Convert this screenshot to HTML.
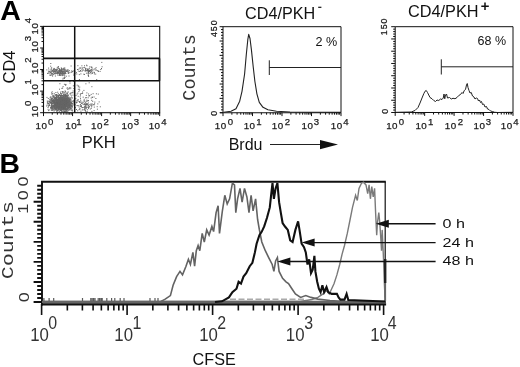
<!DOCTYPE html><html><head><meta charset="utf-8"><title>Figure</title><style>html,body{margin:0;padding:0;background:#fff}svg{display:block}</style></head><body>
<svg width="520" height="367" viewBox="0 0 520 367">
<rect width="520" height="367" fill="#fff"/>
<text transform="translate(0.20,19.90)" font-family="Liberation Sans, Arial, sans-serif" font-size="28.5" fill="#000" text-anchor="start" font-weight="bold">A</text>
<text transform="translate(-0.50,173.40)" font-family="Liberation Sans, Arial, sans-serif" font-size="28.3" fill="#000" text-anchor="start" font-weight="bold">B</text>
<path d="M59.7 105.0h1M59.8 101.7h1M56.2 102.1h1M66.8 104.7h1M66.4 104.0h1M63.1 103.7h1M52.3 106.4h1M63.6 105.0h1M52.2 96.0h1M56.4 101.1h1M62.6 102.8h1M63.7 100.4h1M62.6 104.6h1M57.6 109.9h1M63.9 107.8h1M57.8 100.0h1M59.2 102.6h1M64.3 104.0h1M58.7 99.2h1M58.3 107.9h1M56.8 104.0h1M63.2 97.0h1M61.3 108.2h1M50.5 101.7h1M60.4 99.7h1M63.6 102.8h1M53.4 106.3h1M64.5 106.8h1M68.5 104.4h1M61.6 97.8h1M64.2 100.6h1M58.6 97.9h1M56.0 100.9h1M67.7 94.9h1M53.4 104.0h1M68.5 105.3h1M51.1 92.9h1M62.9 100.1h1M55.2 106.9h1M66.7 103.6h1M62.3 104.7h1M69.3 105.5h1M63.7 105.2h1M52.8 108.1h1M66.0 105.1h1M50.7 100.5h1M65.4 95.8h1M60.0 107.1h1M54.2 109.4h1M63.9 102.4h1M62.7 105.6h1M61.6 107.6h1M57.6 101.3h1M66.4 103.1h1M56.4 106.8h1M68.6 101.2h1M53.8 102.5h1M60.2 101.8h1M68.3 98.9h1M67.6 97.9h1M56.9 105.5h1M66.9 106.4h1M62.8 103.6h1M61.8 105.3h1M60.1 104.1h1M64.0 103.0h1M65.0 105.3h1M71.5 104.3h1M58.8 101.5h1M60.9 106.7h1M59.2 104.5h1M70.6 92.7h1M55.2 104.0h1M63.1 104.0h1M58.8 105.6h1M62.5 100.9h1M73.6 104.4h1M58.1 102.6h1M59.8 102.7h1M46.8 101.1h1M66.2 98.3h1M60.7 106.8h1M65.5 109.0h1M52.2 101.6h1M59.2 105.5h1M66.7 92.3h1M66.7 97.2h1M64.6 97.0h1M61.9 107.8h1M60.2 103.8h1M65.1 103.6h1M60.5 109.1h1M66.5 101.8h1M75.3 98.4h1M65.8 101.9h1M61.7 105.8h1M62.2 105.6h1M53.1 97.0h1M64.2 99.1h1M55.7 97.1h1M67.6 106.0h1M68.7 99.2h1M61.0 98.4h1M65.0 109.4h1M56.4 109.2h1M66.1 102.3h1M50.7 108.6h1M60.5 100.6h1M63.1 104.6h1M68.8 98.9h1M66.9 108.9h1M68.6 102.3h1M57.1 107.1h1M61.6 103.5h1M68.4 101.9h1M49.1 101.5h1M51.4 106.3h1M62.6 100.6h1M61.0 106.3h1M61.4 108.3h1M60.7 107.2h1M68.8 109.4h1M57.5 106.5h1M51.2 98.7h1M50.8 107.3h1M54.6 102.9h1M60.0 102.9h1M57.9 103.9h1M70.3 103.2h1M63.8 107.0h1M60.0 98.0h1M58.1 107.3h1M52.4 100.6h1M66.2 106.2h1M61.0 106.2h1M61.9 98.3h1M52.9 100.4h1M65.8 100.7h1M56.3 99.9h1M53.0 102.5h1M54.9 104.5h1M48.7 104.3h1M57.7 95.2h1M64.8 101.9h1M49.4 99.5h1M62.5 101.2h1M65.1 106.0h1M64.5 104.3h1M67.9 105.6h1M63.3 94.7h1M65.7 108.2h1M59.5 101.1h1M71.1 96.0h1M56.2 105.8h1M70.8 102.5h1M63.9 106.6h1M56.3 102.6h1M62.5 106.3h1M60.8 102.2h1M55.7 101.6h1M65.6 103.4h1M56.6 99.6h1M74.9 107.6h1M64.3 92.6h1M64.2 104.9h1M69.8 104.7h1M60.6 105.1h1M50.9 107.1h1M62.7 100.2h1M67.9 110.2h1M53.7 100.3h1M62.5 103.7h1M58.9 99.1h1M72.0 107.1h1M54.8 97.6h1M69.9 107.0h1M70.5 106.2h1M56.5 104.0h1M49.8 100.0h1M60.7 105.1h1M57.2 102.5h1M63.4 104.5h1M64.3 103.8h1M59.3 106.2h1M61.3 99.7h1M57.7 103.0h1M60.4 103.6h1M61.0 103.7h1M60.3 98.0h1M63.2 107.2h1M63.3 102.2h1M63.3 99.1h1M51.1 103.2h1M56.2 106.0h1M55.4 92.5h1M55.6 109.3h1M59.0 97.5h1M57.0 105.1h1M63.6 103.7h1M68.7 105.8h1M60.9 105.4h1M69.6 106.9h1M66.3 98.7h1M60.2 105.9h1M59.5 107.3h1M64.1 106.6h1M67.4 102.1h1M59.2 106.5h1M66.1 103.0h1M54.9 103.8h1M62.9 107.5h1M65.1 103.1h1M65.4 105.2h1M62.1 103.2h1M59.7 105.7h1M55.5 100.5h1M61.0 97.1h1M58.7 95.0h1M57.4 105.3h1M63.9 102.8h1M59.8 97.3h1M70.5 105.1h1M66.7 99.5h1M60.0 95.7h1M65.1 106.7h1M51.1 102.8h1M64.3 96.0h1M51.5 98.7h1M57.7 97.4h1M61.2 104.0h1M64.3 105.8h1M68.8 107.7h1M54.2 101.0h1M55.5 98.7h1M60.6 103.0h1M63.5 96.7h1M54.6 102.9h1M60.0 101.8h1M60.7 100.0h1M64.6 104.4h1M60.5 100.3h1M60.1 92.1h1M55.9 103.1h1M53.2 103.8h1M61.8 97.5h1M59.7 101.7h1M63.4 105.4h1M60.8 99.6h1M60.2 102.7h1M64.8 104.2h1M57.2 97.6h1M59.1 100.0h1M55.2 102.5h1M58.4 103.4h1M63.7 101.3h1M73.1 101.7h1M66.7 103.5h1M66.8 93.5h1M57.1 104.0h1M62.7 108.1h1M65.0 106.8h1M63.7 102.4h1M63.6 98.7h1M67.1 98.9h1M62.3 111.5h1M59.8 103.1h1M67.0 103.1h1M56.8 104.0h1M64.0 105.8h1M57.0 110.0h1M69.7 103.1h1M62.4 101.3h1M68.4 100.2h1M64.5 101.1h1M57.4 105.9h1M67.9 103.0h1M57.5 106.2h1M60.7 104.2h1M68.9 107.5h1M61.0 106.1h1M57.6 102.8h1M51.9 110.1h1M68.1 98.1h1M53.2 96.5h1M67.1 101.2h1M60.7 101.7h1M60.4 98.6h1M61.1 97.2h1M60.6 104.2h1M63.4 102.1h1M56.3 103.6h1M58.5 109.3h1M65.0 102.5h1M58.6 100.2h1M56.1 101.6h1M62.5 105.1h1M64.0 111.4h1M57.3 103.1h1M75.5 95.5h1M58.3 103.7h1M61.8 104.6h1M59.8 104.5h1M61.3 106.1h1M51.2 99.5h1M61.0 98.9h1M55.6 105.5h1M57.6 105.5h1M64.9 104.2h1M63.6 102.6h1M53.7 102.9h1M63.4 100.9h1M60.5 106.0h1M56.4 105.6h1M70.7 100.8h1M61.8 102.4h1M69.0 104.3h1M65.7 100.2h1M60.9 103.0h1M51.8 108.8h1M65.7 96.0h1M64.9 102.5h1M63.3 104.5h1M53.2 102.2h1M68.8 100.7h1M55.7 97.6h1M54.7 104.3h1M69.8 104.7h1M58.3 100.3h1M63.7 105.2h1M55.7 98.3h1M62.5 104.0h1M54.2 102.2h1M58.2 104.8h1M60.4 102.7h1M59.2 107.2h1M68.2 101.5h1M65.4 100.0h1M61.4 106.0h1M68.9 101.5h1M60.6 103.8h1M53.2 103.1h1M57.5 104.5h1M55.1 95.1h1M61.2 104.0h1M58.1 106.6h1M59.6 100.6h1M63.5 96.7h1M57.5 102.9h1M65.4 102.3h1M62.6 100.4h1M62.6 109.7h1M57.7 103.1h1M61.9 107.1h1M54.6 94.6h1M64.2 106.2h1M62.1 104.0h1M65.8 104.5h1M69.7 98.0h1M59.0 89.2h1M65.2 101.5h1M65.8 111.6h1M61.0 102.0h1M58.4 99.6h1M57.7 105.6h1M61.2 103.3h1M60.1 106.7h1M63.6 102.4h1M64.5 102.4h1M55.0 108.8h1M63.4 99.2h1M66.6 104.4h1M52.9 109.4h1M62.7 106.6h1M62.0 102.4h1M52.9 106.9h1M61.2 101.9h1M62.8 103.3h1M64.5 101.5h1M60.8 94.4h1M58.8 105.7h1M68.0 101.5h1M60.4 109.3h1M59.3 105.9h1M69.7 103.2h1M67.4 100.2h1M62.1 102.7h1M61.6 107.5h1M73.4 100.3h1M58.0 105.0h1M55.5 105.0h1M64.0 101.9h1M63.8 96.8h1M65.0 96.8h1M57.4 100.8h1M58.9 106.4h1M61.4 101.4h1M63.8 109.3h1M61.0 104.5h1M67.4 104.1h1M72.5 95.1h1M60.8 104.7h1M66.0 105.7h1M59.6 98.8h1M61.5 107.1h1M55.3 98.9h1M60.9 95.3h1M59.6 101.3h1M63.3 100.2h1M56.4 101.4h1M60.7 100.3h1M61.1 106.0h1M67.2 109.8h1M56.9 101.3h1M48.1 110.6h1M57.2 102.9h1M63.7 97.6h1M63.4 102.9h1M51.5 104.2h1M67.2 95.5h1M65.2 103.8h1M63.5 104.8h1M67.8 102.1h1M65.5 101.4h1M64.8 99.7h1M60.4 109.9h1M63.3 102.4h1M55.0 99.8h1M62.0 106.8h1M63.2 105.1h1M60.8 108.4h1M59.0 100.8h1M65.6 103.3h1M59.6 100.7h1M59.7 105.5h1M62.8 98.2h1M63.2 103.7h1M55.8 106.1h1M59.5 101.7h1M65.1 108.3h1M57.4 104.8h1M58.4 107.8h1M57.6 106.2h1M72.5 92.8h1M58.7 105.0h1M60.5 100.3h1M72.2 103.3h1M52.4 106.4h1M52.0 107.6h1M58.0 103.6h1M67.6 103.5h1M53.8 96.2h1M67.1 106.0h1M56.8 106.4h1M63.6 105.6h1M49.3 101.8h1M65.7 105.9h1M65.6 93.2h1M61.9 105.0h1M74.3 99.2h1M59.3 103.1h1M65.6 101.2h1M67.0 99.8h1M62.4 100.9h1M61.8 100.2h1M52.7 107.4h1M62.6 100.8h1M62.0 107.0h1M55.9 102.6h1M63.8 105.1h1M59.3 94.6h1M67.5 104.3h1M61.1 101.9h1M62.4 101.3h1M55.7 100.0h1M57.9 100.6h1M55.0 105.5h1M54.2 105.6h1M55.7 104.4h1M68.1 103.8h1M57.2 103.2h1M61.8 96.1h1M57.8 103.7h1M58.6 103.3h1M64.8 106.1h1M65.7 105.4h1M59.5 102.9h1M59.6 101.7h1M60.1 96.1h1M59.3 102.9h1M55.9 102.9h1M63.7 102.3h1M71.8 92.6h1M59.9 95.7h1M48.0 103.5h1M63.7 101.8h1M63.9 94.0h1M65.4 104.5h1M61.1 100.6h1M64.3 101.1h1M62.2 101.0h1M49.3 102.9h1M62.1 106.0h1M56.4 102.9h1M64.2 103.6h1M67.5 111.0h1M56.3 95.3h1M65.5 109.1h1M65.8 106.3h1M57.8 100.1h1M65.6 99.4h1M51.6 99.0h1M74.0 110.7h1M57.4 100.1h1M62.2 100.0h1M67.8 102.7h1M55.4 108.2h1M58.0 103.9h1M60.9 101.7h1M62.7 100.2h1M51.4 94.2h1M54.4 100.0h1M60.9 103.2h1M63.9 103.5h1M56.9 100.2h1M50.0 102.3h1M63.5 105.1h1M60.4 102.3h1M65.9 103.1h1M64.8 105.3h1M62.1 108.2h1M58.0 101.6h1M56.8 99.8h1M69.1 110.0h1M61.1 105.3h1M67.1 106.2h1M67.3 97.9h1M57.7 104.8h1M68.5 103.4h1M56.5 101.6h1M57.6 99.6h1M68.8 100.5h1M61.1 111.6h1M67.2 104.3h1M57.8 104.6h1M69.4 105.5h1M67.6 103.4h1M63.7 102.2h1M63.2 108.2h1M53.6 102.7h1M62.2 100.7h1M59.4 106.1h1M71.4 105.5h1M62.7 96.8h1M71.0 103.3h1M60.8 98.5h1M60.7 98.6h1M61.4 104.9h1M61.2 104.1h1M56.6 108.7h1M57.6 95.7h1M60.0 99.9h1M55.7 101.6h1M62.5 98.3h1M60.3 108.7h1M64.6 102.4h1M61.7 102.5h1M60.8 105.9h1M60.5 93.4h1M60.9 99.4h1M64.4 100.6h1M55.6 98.5h1M53.7 93.4h1M51.2 104.5h1M57.7 95.5h1M53.3 105.5h1M57.0 101.5h1M62.7 108.4h1M71.1 107.1h1M61.7 103.7h1M70.4 108.7h1M59.4 104.8h1M62.5 103.2h1M58.4 97.7h1M58.2 96.8h1M67.4 105.1h1M54.7 108.6h1M65.6 95.4h1M70.6 106.2h1M71.7 98.1h1M63.8 104.7h1M62.0 103.7h1M66.5 97.0h1M54.5 97.4h1M58.1 100.6h1M62.9 104.1h1M61.2 100.3h1M58.7 106.8h1M65.0 103.4h1M59.3 109.2h1M57.9 105.6h1M67.0 101.9h1M65.3 98.5h1M66.3 103.8h1M52.7 105.7h1M56.4 108.1h1M57.5 102.3h1M62.5 101.7h1M62.3 100.8h1M64.5 103.0h1M62.1 92.0h1M67.0 103.1h1M51.7 103.4h1M63.4 107.3h1M55.4 109.2h1M60.2 105.7h1M59.1 98.5h1M66.7 106.6h1M69.0 106.4h1M58.0 96.4h1M57.6 100.3h1M56.8 105.3h1M62.7 101.9h1M61.9 102.4h1M62.1 106.0h1M66.0 100.3h1M53.2 108.7h1M61.6 107.4h1M52.5 101.7h1M61.1 97.2h1M58.3 105.9h1M66.6 109.4h1M56.5 97.4h1M63.7 106.8h1M62.0 97.8h1M65.1 106.2h1M63.9 101.1h1M62.6 106.2h1M58.1 95.6h1M62.7 104.9h1M61.1 106.6h1M57.9 102.7h1M59.4 105.3h1M69.3 102.0h1M71.7 109.1h1M65.1 105.3h1M70.2 102.3h1M60.4 98.7h1M63.5 108.4h1M63.8 104.7h1M60.0 103.7h1M53.6 107.2h1M58.9 98.6h1M57.1 99.7h1M65.4 107.2h1M53.9 106.7h1M65.6 100.7h1M53.3 100.0h1M57.7 104.4h1M59.1 94.9h1M62.2 96.9h1M65.7 98.2h1M57.4 99.6h1M58.2 108.2h1M65.4 105.4h1M62.7 96.8h1M58.3 100.8h1M55.9 105.0h1M57.1 100.2h1M55.6 94.8h1M64.1 108.3h1M61.9 99.1h1M46.9 103.7h1M67.3 104.2h1M65.8 108.9h1M66.9 101.2h1M66.5 106.1h1M53.0 101.4h1M53.6 102.6h1M64.0 98.7h1M50.3 108.2h1M63.0 108.9h1M54.1 107.2h1M71.8 111.0h1M59.9 104.1h1M60.2 107.0h1M66.4 103.3h1M53.9 106.0h1M58.6 105.5h1M62.4 109.5h1M66.9 101.2h1M62.8 110.1h1M58.2 104.7h1M67.2 108.0h1M63.7 97.7h1M54.4 104.0h1M56.5 107.6h1M65.0 96.3h1M56.7 103.7h1M58.4 102.4h1M63.4 99.8h1M63.4 100.5h1M58.2 105.1h1M58.0 104.1h1M69.3 103.1h1M60.2 105.9h1M59.1 107.3h1M54.3 105.5h1M58.3 99.8h1M70.2 99.6h1M70.1 105.6h1M68.6 99.1h1M67.2 108.8h1M60.4 102.5h1M73.8 103.7h1M58.8 100.5h1M63.3 104.3h1M61.9 109.9h1M59.3 104.9h1M68.6 99.0h1M66.4 110.3h1M54.0 98.6h1M55.6 95.6h1M63.4 95.6h1M63.6 108.8h1M52.6 101.7h1M51.0 106.1h1M57.2 101.9h1M61.3 105.2h1M59.2 103.1h1M58.2 103.5h1M54.9 103.3h1M51.0 101.0h1M71.0 103.3h1M54.4 104.0h1M55.9 96.4h1M57.2 105.9h1M63.0 102.6h1M56.2 98.7h1M68.0 104.0h1M56.1 94.6h1M55.0 102.7h1M62.1 102.4h1M59.6 97.5h1M55.5 109.8h1M57.1 106.4h1M52.2 101.9h1M62.4 107.1h1M55.2 105.4h1M63.0 100.0h1M63.5 99.4h1M56.9 102.9h1M46.9 102.6h1M55.8 97.1h1M58.8 106.1h1M58.9 108.1h1M55.0 97.8h1M69.1 104.6h1M65.9 99.7h1M65.2 104.0h1M64.4 103.1h1M67.3 100.4h1M56.0 97.1h1M67.0 100.0h1M55.6 99.2h1M58.7 97.9h1M59.5 100.5h1M58.1 99.2h1M61.2 101.2h1M61.6 104.0h1M62.8 94.2h1M58.2 99.8h1M65.0 96.7h1M57.3 101.8h1M59.3 107.0h1M58.7 106.9h1M53.4 95.8h1M67.3 104.7h1M63.5 103.5h1M63.5 98.1h1M65.9 100.9h1M66.1 103.4h1M50.7 97.9h1M66.9 102.5h1M58.9 104.0h1M58.8 100.8h1M61.5 103.6h1M68.9 103.2h1M70.8 110.2h1M69.9 107.2h1M61.7 103.5h1M60.3 100.1h1M60.7 100.4h1M69.5 105.1h1M58.7 95.3h1M60.7 101.3h1M55.4 98.5h1M49.3 105.3h1M60.8 102.4h1M68.5 103.5h1M61.9 101.5h1M57.9 109.0h1M66.2 109.9h1M59.2 103.1h1M56.4 106.9h1M53.8 105.3h1M66.7 108.6h1M56.1 107.4h1M57.3 100.0h1M54.1 107.6h1M69.6 100.6h1M57.1 101.6h1M74.0 107.0h1M58.2 95.8h1M57.5 107.7h1M70.7 101.9h1M57.4 101.0h1M51.2 106.6h1M55.4 107.3h1M52.1 97.9h1M62.5 99.9h1M65.1 103.0h1M54.9 105.5h1M65.4 95.3h1M70.5 105.0h1M65.0 95.6h1M57.3 101.6h1M66.6 97.2h1M56.4 94.9h1M59.7 104.4h1M52.2 100.6h1M63.7 109.3h1M64.5 101.8h1M54.9 99.3h1M57.5 103.6h1M60.7 109.7h1M62.5 98.7h1M69.0 106.8h1M61.5 100.1h1M51.3 98.9h1M65.7 99.8h1M54.1 103.8h1M62.3 105.4h1M64.4 108.6h1M56.6 106.9h1M55.9 105.8h1M61.9 104.0h1M66.0 102.9h1M66.8 106.5h1M61.7 100.7h1M57.1 100.9h1M59.9 102.9h1M76.5 105.6h1M65.0 99.6h1M57.3 101.7h1M62.0 98.9h1M69.4 100.7h1M66.6 93.7h1M61.0 104.1h1M62.0 105.4h1M62.5 103.6h1M51.2 100.1h1M48.8 105.5h1M62.6 102.2h1M56.7 100.7h1M70.6 109.9h1M60.7 108.2h1M52.7 95.3h1M58.5 99.5h1M58.1 103.8h1M76.7 100.4h1M61.3 104.1h1M60.8 106.7h1M70.2 98.0h1M61.8 101.9h1M62.9 96.9h1M51.9 93.7h1M63.7 103.8h1M61.4 93.5h1M59.1 100.0h1M53.6 99.3h1M64.6 105.2h1M60.9 105.1h1M57.9 103.3h1M61.2 105.2h1M60.6 102.4h1M60.3 100.4h1M72.6 105.1h1M68.3 96.8h1M64.6 106.4h1M70.8 108.3h1M65.0 98.3h1M56.5 104.1h1M63.6 98.9h1M59.0 101.4h1M61.3 104.3h1M59.5 98.1h1M67.5 109.4h1M60.4 107.1h1M63.3 105.6h1M63.5 99.9h1M64.0 107.0h1M56.3 110.9h1M71.9 110.3h1M71.3 106.0h1M59.2 100.6h1M56.8 103.5h1M60.8 105.7h1M72.8 102.9h1M64.5 104.9h1M62.4 102.2h1M60.4 99.7h1M61.9 102.9h1M62.7 99.6h1M61.2 103.2h1M64.1 98.7h1M63.2 106.9h1M64.1 101.5h1M58.4 102.1h1M64.8 109.2h1M60.2 100.4h1M63.0 103.8h1M56.3 100.1h1M60.5 105.7h1M54.8 98.9h1M63.6 98.1h1M61.6 104.4h1M60.4 98.9h1M60.7 101.7h1M62.7 99.6h1M66.7 96.3h1M60.1 103.0h1M66.0 100.6h1M63.8 100.7h1M64.8 109.9h1M58.9 104.8h1M56.2 106.9h1M67.3 103.1h1M55.1 104.6h1M67.0 107.4h1M65.2 95.7h1M57.5 108.7h1M54.6 107.5h1M70.8 106.0h1M66.8 101.7h1M54.6 102.6h1M60.0 102.8h1M64.6 102.4h1M62.0 104.7h1M61.0 110.4h1M63.3 103.3h1M59.9 100.5h1M68.0 103.6h1M55.4 100.8h1M60.3 101.2h1M66.6 98.4h1M63.6 103.6h1M54.9 103.2h1M60.5 105.0h1M58.7 104.2h1M52.3 98.7h1M65.1 107.2h1M60.9 100.6h1M66.6 94.6h1M56.8 105.7h1M64.4 98.9h1M51.2 108.8h1M61.8 99.4h1M61.3 106.6h1M47.5 107.4h1M64.8 94.7h1M65.0 95.9h1M66.9 104.6h1M72.7 100.6h1M61.0 107.2h1M57.7 100.2h1M59.1 102.7h1M55.4 104.9h1M63.8 103.3h1M69.8 101.7h1M67.8 100.8h1M64.9 95.3h1M62.0 102.3h1M58.4 100.6h1M59.2 100.1h1M49.6 100.6h1M58.1 100.9h1M55.5 102.5h1M65.1 102.0h1M58.4 108.4h1M66.1 106.7h1M67.0 101.7h1M60.3 107.5h1M58.1 102.5h1M63.0 104.5h1M59.6 106.9h1M60.1 105.9h1M66.6 105.6h1M64.8 98.4h1M54.2 100.5h1M63.5 109.0h1M54.6 104.2h1M56.6 100.1h1M59.6 105.8h1M62.1 107.7h1M55.9 106.6h1M65.8 103.3h1M63.5 100.7h1M55.3 101.4h1M58.5 109.6h1M62.1 104.2h1M64.9 99.9h1M65.8 104.5h1M53.1 105.4h1M63.9 104.8h1M69.2 101.3h1M63.7 106.0h1M56.3 107.8h1M53.5 97.8h1M63.7 98.6h1M60.4 96.4h1M61.4 98.5h1M62.8 96.9h1M63.3 101.9h1M61.3 102.7h1M61.7 97.7h1M47.7 103.1h1M56.1 101.2h1M63.2 95.1h1M57.0 100.6h1M55.5 104.3h1M60.3 99.7h1M55.9 106.2h1M57.6 105.3h1M63.3 95.4h1M55.4 103.0h1M62.8 106.1h1M65.2 107.1h1M59.1 102.2h1M65.0 101.3h1M66.5 96.6h1M64.4 102.3h1M50.8 106.9h1M62.6 103.1h1M55.4 101.1h1M68.9 99.7h1M54.8 102.5h1M59.0 99.4h1M56.6 107.2h1M53.5 110.8h1M58.2 98.6h1M65.1 105.3h1M55.6 106.0h1M51.4 99.3h1M66.9 102.0h1M54.2 105.1h1M65.8 102.9h1M51.6 101.6h1M63.2 106.1h1M70.6 102.0h1M58.5 102.8h1M67.3 99.2h1M67.8 92.0h1M65.1 100.3h1M63.4 105.8h1M54.9 102.7h1M62.3 105.3h1M56.2 99.0h1M60.0 102.1h1M53.2 106.7h1M58.2 108.7h1M65.4 103.1h1M64.8 98.6h1M59.3 100.7h1M54.4 103.1h1M60.2 108.7h1M56.2 101.1h1M63.2 104.6h1M61.1 101.1h1M63.6 104.4h1M51.4 102.0h1M53.9 98.3h1M61.8 103.2h1M61.6 99.5h1M60.0 99.3h1M63.0 105.8h1M70.1 108.1h1M56.8 101.2h1M56.1 104.2h1M71.3 105.8h1M49.6 98.0h1M54.3 105.1h1M61.0 104.2h1M70.3 99.7h1M56.6 110.9h1M62.8 99.9h1M50.5 96.9h1M48.3 103.3h1M61.2 107.0h1M60.3 100.2h1M57.1 110.6h1M51.8 103.7h1M61.1 105.5h1M58.9 105.0h1M65.2 102.4h1M58.6 102.3h1M56.0 102.2h1M59.4 103.8h1M67.9 108.2h1M58.7 105.4h1M62.5 106.0h1M61.1 104.1h1M58.6 99.9h1M65.5 108.2h1M64.4 104.7h1M62.4 101.2h1M51.7 105.7h1M62.0 100.8h1M56.0 108.1h1M51.6 110.0h1M57.3 102.9h1M58.4 103.6h1M59.9 100.0h1M66.6 99.9h1M58.4 105.2h1M58.2 101.3h1M62.9 101.5h1M54.5 102.6h1M59.9 109.8h1M55.3 106.9h1M56.9 101.6h1M59.3 104.1h1M65.5 110.0h1M57.7 108.3h1M66.2 106.3h1M57.1 106.6h1M60.4 104.4h1M59.6 105.7h1M66.8 107.5h1M59.9 107.0h1M68.6 99.3h1M68.7 97.7h1M63.8 105.4h1M68.7 104.1h1M58.5 99.8h1M54.5 106.1h1M59.8 100.1h1M63.8 99.9h1M58.7 101.2h1M69.6 108.9h1M60.2 96.7h1M62.4 103.3h1M62.8 105.3h1M59.3 106.7h1M65.4 103.8h1M58.9 101.1h1M64.6 98.6h1M60.2 100.0h1M53.8 105.4h1M60.9 103.1h1M65.5 97.0h1M60.7 104.2h1M65.3 98.7h1M64.7 103.9h1M68.1 107.6h1M63.9 111.6h1M61.0 101.3h1M59.2 99.2h1M60.9 95.5h1M60.6 104.7h1M66.2 101.6h1M68.2 100.4h1M60.3 95.5h1M57.0 99.8h1M68.6 105.1h1M55.4 105.1h1M63.4 102.1h1M61.1 101.8h1M58.2 96.1h1M60.5 108.0h1M68.3 101.9h1M57.2 102.2h1M65.6 104.4h1M58.0 104.4h1M60.0 105.0h1M58.9 97.3h1M61.3 106.0h1M55.4 102.6h1M65.5 101.5h1M57.7 110.9h1M65.2 107.0h1M56.2 109.4h1M52.6 101.0h1M64.7 108.2h1M56.3 100.4h1M62.0 95.5h1M64.2 105.2h1M58.7 105.1h1M64.9 104.2h1M63.6 108.9h1M58.6 103.6h1M58.4 107.0h1M58.9 104.8h1M61.7 103.3h1M69.7 102.7h1M68.1 106.2h1M67.6 102.4h1M65.7 105.9h1M57.9 104.0h1M60.4 102.9h1M67.5 100.2h1M52.5 96.3h1M58.7 100.5h1M61.1 105.2h1M69.8 104.2h1M63.3 100.2h1M63.9 108.2h1M67.7 95.5h1M65.5 109.1h1M65.1 97.2h1M59.5 105.3h1M63.1 99.9h1M56.5 106.7h1M54.3 108.5h1M61.1 104.2h1M54.3 100.7h1M64.5 97.3h1M71.4 97.6h1M54.9 103.2h1M63.4 105.8h1M59.1 102.2h1M59.8 100.8h1M48.1 106.7h1M62.3 103.6h1M57.9 104.0h1M60.9 102.7h1M66.5 96.4h1M62.3 98.9h1M59.4 108.8h1M55.6 102.6h1M58.0 106.6h1M56.1 96.5h1M63.6 101.6h1M59.4 107.2h1M56.6 101.6h1M61.7 104.6h1M58.4 107.0h1M72.2 101.4h1M70.3 94.9h1M68.0 101.7h1M61.7 101.7h1M57.8 98.1h1M59.0 108.0h1M66.7 101.7h1M58.4 100.3h1M55.0 109.9h1M64.3 103.5h1M58.5 99.1h1M67.6 106.0h1M56.2 106.8h1M55.5 105.5h1M56.2 101.4h1M63.5 104.7h1M66.0 99.8h1M68.9 108.2h1M60.9 104.8h1M57.1 102.4h1M54.4 103.3h1M62.0 108.2h1M65.7 106.1h1M59.2 102.1h1M59.3 103.9h1M51.4 106.0h1M53.2 101.0h1M61.1 101.0h1M69.3 102.6h1M68.8 107.5h1M58.5 104.5h1M67.5 101.7h1M61.4 100.9h1M61.3 101.6h1M61.4 106.8h1M68.0 103.5h1M62.0 106.3h1M59.6 98.9h1M66.5 99.4h1M65.6 99.3h1M70.1 99.0h1M65.2 108.8h1M56.2 108.7h1M56.9 96.2h1M64.6 105.7h1M60.0 93.3h1M60.7 101.8h1M59.1 101.9h1M52.1 100.8h1M70.0 108.9h1M59.2 100.3h1M63.0 107.1h1M64.6 98.5h1M61.8 103.5h1M68.2 107.6h1M63.6 107.7h1M59.0 108.9h1M58.9 104.5h1M65.6 99.5h1M57.5 96.2h1M61.8 102.8h1M59.4 104.9h1M50.4 102.9h1M61.4 102.0h1M65.0 109.7h1M58.8 99.4h1M58.0 103.4h1M63.9 99.7h1M66.0 99.1h1M65.1 104.6h1M63.3 111.3h1M59.7 102.4h1M63.4 106.3h1M54.3 104.1h1M57.3 105.4h1M67.8 103.2h1M60.5 103.7h1M46.2 106.0h1M63.8 103.6h1M59.0 100.2h1M60.1 107.7h1M60.5 108.2h1M48.2 101.2h1M62.4 102.9h1M52.7 100.4h1M67.2 98.0h1M56.1 98.8h1M58.2 105.5h1M64.0 95.2h1M68.3 100.7h1M58.1 109.4h1M60.6 98.2h1M57.8 100.2h1M56.0 101.7h1M65.4 104.3h1M56.1 103.4h1M61.2 105.9h1M59.4 104.8h1M71.5 103.4h1M55.6 104.3h1M57.0 101.6h1M61.9 104.3h1M59.6 106.3h1M60.0 98.0h1M64.9 102.4h1M67.2 101.1h1M62.8 105.4h1M51.5 110.2h1M66.3 106.2h1M63.5 101.8h1M58.9 105.0h1M61.8 107.1h1M57.6 100.9h1M55.2 105.8h1M47.8 98.5h1M56.2 101.6h1M57.2 92.2h1M56.7 102.9h1M64.2 95.3h1M56.9 106.1h1M62.3 109.3h1M66.1 99.4h1M63.3 102.5h1M53.6 110.8h1M54.8 100.2h1M56.3 100.2h1M65.8 105.7h1M68.4 105.8h1M54.9 108.6h1M54.6 102.0h1M57.9 104.2h1M67.0 101.3h1M61.4 103.9h1M50.5 99.2h1M57.5 105.8h1M61.2 106.1h1M59.3 102.0h1M61.9 99.6h1M49.9 102.5h1M49.4 101.7h1M54.0 101.5h1M58.7 100.5h1M56.1 96.4h1M60.0 100.1h1M61.7 91.5h1M53.6 105.1h1M59.6 104.5h1M48.9 105.0h1M60.0 99.7h1M64.0 103.8h1M59.1 102.0h1M62.7 104.4h1M66.7 106.0h1M54.8 103.0h1M65.2 102.4h1M61.6 106.3h1M57.8 93.7h1M59.9 105.0h1M59.9 100.6h1M67.2 103.4h1M54.8 100.8h1M61.4 99.1h1M67.9 108.7h1M68.2 106.6h1M47.6 109.3h1M67.4 106.2h1M68.3 101.8h1M59.9 107.5h1M58.4 108.9h1M59.6 107.1h1M59.6 97.4h1M60.9 109.8h1M66.7 111.6h1M62.8 101.3h1M59.1 95.4h1M57.7 108.0h1M64.6 109.9h1M52.7 101.1h1M51.2 110.2h1M61.9 101.8h1M73.9 92.7h1M58.5 105.0h1M74.4 104.6h1M65.7 110.1h1M62.5 105.6h1M57.8 102.2h1M56.0 94.7h1M60.8 103.8h1M58.3 102.8h1M53.9 103.9h1M56.0 104.9h1M80.3 105.8h1M64.9 107.7h1M63.9 107.7h1M63.6 110.3h1M65.9 110.0h1M55.6 104.0h1M54.0 108.3h1M64.7 101.9h1M67.4 99.0h1M58.4 106.8h1M58.8 105.7h1M67.0 105.5h1M51.5 107.2h1M58.3 104.5h1M55.1 97.8h1M50.5 102.4h1M51.7 91.8h1M66.8 98.8h1M54.1 106.4h1M53.8 107.0h1M55.7 105.4h1M59.7 104.0h1M46.5 97.4h1M58.7 110.3h1M55.3 106.4h1M60.1 106.2h1M65.8 97.3h1M60.9 103.2h1M56.9 100.2h1M53.6 99.4h1M70.6 104.0h1M64.1 99.6h1M60.0 110.5h1M58.7 99.5h1M57.4 99.5h1M49.5 103.0h1M56.3 100.4h1M53.0 99.8h1M60.6 110.2h1M48.0 105.2h1M51.1 103.3h1M59.7 106.5h1M66.7 101.5h1M50.5 103.2h1M61.0 100.9h1M65.1 111.5h1M49.3 105.6h1M65.9 95.4h1M60.4 103.0h1M49.3 109.9h1M60.5 101.9h1M62.0 106.9h1M64.2 106.6h1M61.8 98.7h1M56.1 104.6h1M56.4 99.3h1M46.6 105.1h1M59.2 101.4h1M56.2 100.0h1M53.9 103.6h1M54.6 107.0h1M58.0 104.6h1M61.8 109.7h1M63.1 105.0h1M57.9 100.4h1M56.7 107.1h1M60.5 102.3h1M49.9 97.1h1M61.2 108.6h1M61.6 97.8h1M57.5 105.0h1M52.7 105.6h1M57.6 100.3h1M50.5 107.6h1M61.4 100.0h1M52.1 108.0h1M63.1 102.6h1M69.9 102.7h1M51.8 108.9h1M57.7 105.5h1M59.3 99.5h1M50.9 103.1h1M68.6 99.5h1M68.3 105.0h1M51.4 105.2h1M62.9 100.0h1M51.4 106.0h1M53.5 97.4h1M57.4 104.8h1M55.2 98.7h1M60.4 96.2h1M62.6 106.2h1M70.4 108.0h1M61.4 105.2h1M59.2 98.1h1M69.0 106.4h1M57.1 98.9h1M69.1 106.4h1M50.9 107.0h1M71.9 103.9h1M61.7 102.1h1M54.7 108.8h1M79.9 104.5h1M58.2 107.5h1M56.9 107.3h1M64.6 99.5h1M51.7 103.7h1M64.7 105.2h1M67.4 97.9h1M62.4 101.2h1M59.7 105.4h1M52.4 103.0h1M51.1 105.2h1M53.2 101.8h1M60.5 101.1h1M66.8 101.2h1M64.8 105.3h1M52.0 103.0h1M53.3 102.4h1M56.2 111.0h1M62.0 98.2h1M66.0 105.7h1M57.6 102.9h1M60.8 102.6h1M55.4 102.4h1M66.9 101.2h1M61.6 98.9h1M54.2 97.9h1M57.7 107.0h1M61.1 101.8h1M63.1 102.5h1M61.5 105.2h1M62.7 93.0h1M50.2 107.4h1M57.4 101.5h1M69.1 106.5h1M71.9 106.3h1M57.6 107.2h1M53.7 102.0h1M55.2 103.0h1M64.3 101.9h1M61.2 101.8h1M65.0 91.7h1M57.6 104.8h1M51.7 108.5h1M60.5 109.7h1M65.5 106.9h1M58.0 99.2h1M57.5 102.0h1M60.7 101.9h1M79.7 96.9h1M66.9 101.9h1M57.4 108.1h1M59.0 98.6h1M61.8 103.1h1M51.9 100.7h1M62.3 105.3h1M61.8 101.3h1M60.6 103.5h1M57.8 102.8h1M55.2 108.4h1M59.2 111.6h1M64.3 111.3h1M58.2 105.7h1M56.1 103.3h1M47.3 101.4h1M52.6 101.1h1M67.2 105.2h1M67.3 107.8h1M65.2 108.5h1M54.9 107.6h1M56.8 101.6h1M64.6 100.2h1M60.1 72.4h1M60.6 71.2h1M52.6 71.9h1M63.0 73.2h1M62.0 73.7h1M54.0 71.7h1M60.4 73.5h1M59.6 72.7h1M59.4 75.4h1M48.3 71.8h1M70.7 72.2h1M50.0 72.0h1M51.9 70.6h1M59.9 74.8h1M61.0 73.0h1M63.7 72.1h1M54.7 71.6h1M60.4 71.3h1M55.6 71.2h1M51.6 70.0h1M58.4 71.2h1M59.0 74.2h1M60.2 71.7h1M53.2 69.9h1M60.6 70.3h1M60.9 69.9h1M59.4 71.7h1M63.6 71.1h1M57.0 72.2h1M59.1 74.7h1M57.6 70.9h1M57.3 72.6h1M59.9 73.0h1M52.1 76.1h1M67.7 71.7h1M53.0 72.1h1M60.8 67.9h1M58.9 69.2h1M61.0 74.2h1M63.8 69.2h1M65.4 73.4h1M57.1 72.7h1M66.1 71.2h1M58.7 70.8h1M64.4 68.1h1M65.6 70.1h1M63.3 69.0h1M54.3 70.8h1M62.8 69.0h1M61.7 70.7h1M64.8 71.3h1M61.1 71.5h1M67.4 71.2h1M58.7 75.2h1M59.2 73.0h1M55.3 72.1h1M47.9 72.0h1M55.7 69.2h1M52.0 73.8h1M60.9 69.2h1M67.5 70.6h1M57.0 72.2h1M53.3 69.0h1M55.2 73.8h1M63.4 69.1h1M64.6 71.9h1M61.2 71.9h1M60.8 70.1h1M54.4 70.6h1M57.0 72.9h1M52.9 74.6h1M55.8 70.8h1M62.2 72.6h1M57.2 69.9h1M54.0 69.0h1M64.3 73.7h1M67.8 72.7h1M60.4 73.1h1M63.4 71.4h1M60.5 75.5h1M50.6 69.4h1M54.2 73.1h1M64.5 71.2h1M62.0 71.7h1M60.2 70.9h1M58.7 71.8h1M64.2 75.7h1M50.1 72.7h1M58.8 73.5h1M63.9 73.2h1M62.7 70.2h1M50.6 74.7h1M64.6 70.1h1M65.0 73.0h1M47.0 73.4h1M54.0 73.8h1M55.5 70.5h1M51.4 71.4h1M63.7 70.6h1M49.8 75.5h1M67.7 73.0h1M56.2 69.7h1M50.9 72.8h1M65.1 70.0h1M58.8 71.3h1M57.6 72.7h1M68.9 70.7h1M62.9 73.7h1M57.4 71.5h1M52.3 73.7h1M56.2 70.7h1M59.1 70.3h1M53.8 71.3h1M66.0 71.4h1M61.3 69.3h1M49.4 75.0h1M56.9 69.1h1M58.3 72.9h1M50.5 70.3h1M60.1 70.2h1M62.6 73.5h1M60.9 71.1h1M58.6 70.7h1M58.2 72.4h1M57.4 73.5h1M71.3 70.8h1M60.5 73.2h1M61.9 71.4h1M56.5 73.5h1M61.8 72.7h1M54.9 72.9h1M62.6 71.5h1M61.9 75.6h1M49.7 72.9h1M53.1 69.4h1M57.7 72.7h1M59.1 69.8h1M51.9 70.8h1M58.9 70.4h1M51.5 74.9h1M54.7 71.5h1M56.1 70.8h1M59.0 71.3h1M61.8 69.7h1M51.6 75.2h1M58.4 73.1h1M64.5 72.8h1M59.0 69.1h1M51.1 73.5h1M62.1 72.8h1M50.8 68.1h1M53.7 69.7h1M59.6 70.0h1M66.5 70.7h1M56.1 73.3h1M60.4 70.2h1M62.8 75.2h1M52.9 71.4h1M53.6 68.4h1M61.8 73.0h1M63.5 72.5h1M49.0 71.8h1M55.6 69.7h1M53.4 73.1h1M57.4 75.2h1M61.1 68.5h1M63.1 74.0h1M59.0 69.7h1M67.4 69.5h1M58.4 68.5h1M50.2 66.2h1M68.5 76.0h1M56.8 67.4h1M59.5 73.3h1M48.1 68.1h1M59.2 74.4h1M60.6 73.5h1M50.3 63.5h1M62.4 68.9h1M59.0 70.7h1M63.7 69.4h1M71.3 72.1h1M64.1 74.1h1M68.1 73.4h1M46.3 69.9h1M74.5 73.6h1M64.4 73.6h1M55.0 69.7h1M54.9 76.0h1M62.8 78.1h1M63.9 78.5h1M63.6 67.9h1M73.6 73.2h1M69.3 72.7h1M57.4 72.6h1M51.2 67.9h1M53.0 70.2h1M49.4 71.6h1M62.4 79.0h1M74.4 71.8h1M66.9 71.2h1M63.1 71.9h1M55.8 72.3h1M48.4 73.5h1M57.7 68.3h1M57.2 73.9h1M54.7 73.6h1M64.5 77.4h1M51.4 71.6h1M64.0 77.2h1M62.1 74.6h1M48.4 70.0h1M73.1 71.0h1M77.0 69.5h1M57.8 66.5h1M65.0 72.9h1M75.9 72.6h1M58.0 67.1h1M59.4 75.3h1M65.8 76.2h1M91.3 70.4h1M90.0 70.8h1M80.4 73.9h1M88.8 68.4h1M88.9 71.1h1M91.9 73.4h1M72.0 71.6h1M94.6 68.6h1M77.8 71.1h1M88.7 71.2h1M81.5 69.6h1M88.0 72.0h1M97.8 71.1h1M84.0 65.8h1M92.3 70.2h1M86.5 68.5h1M90.6 66.9h1M87.5 70.7h1M88.5 73.1h1M86.5 70.7h1M91.2 67.4h1M85.6 70.6h1M91.7 68.9h1M91.0 71.3h1M79.6 67.6h1M79.9 70.8h1M88.0 71.9h1M91.1 69.4h1M92.3 72.1h1M89.3 71.5h1M80.6 71.2h1M81.9 68.1h1M85.3 70.8h1M86.7 69.8h1M82.0 70.9h1M83.3 67.7h1M87.5 73.4h1M85.0 68.4h1M93.9 73.9h1M85.5 70.1h1M88.1 76.4h1M87.7 72.5h1M89.2 66.9h1M81.5 68.0h1M89.2 70.7h1M95.9 70.0h1M88.5 70.6h1M87.7 75.1h1M88.4 73.4h1M93.5 69.3h1M90.4 69.7h1M87.5 70.8h1M87.1 69.6h1M94.8 70.0h1M90.5 73.8h1M90.1 72.5h1M93.9 72.7h1M95.6 67.7h1M96.8 70.6h1M78.3 69.2h1M80.0 70.5h1M79.6 68.5h1M88.5 70.8h1M83.0 70.0h1M86.5 70.6h1M87.0 70.1h1M91.4 67.3h1M84.5 70.8h1M85.0 69.4h1M84.8 70.9h1M97.9 71.4h1M85.9 73.2h1M86.1 65.2h1M90.1 70.7h1M83.4 74.2h1M88.4 70.0h1M70.6 66.0h1M88.1 71.6h1M91.5 72.8h1M84.2 67.6h1M79.2 71.5h1M78.8 74.6h1M77.4 65.7h1M86.5 65.8h1M101.0 68.5h1M87.6 71.1h1M81.4 65.8h1M73.1 75.0h1M96.2 79.6h1M76.3 74.0h1M87.9 75.0h1M83.9 74.5h1M95.2 74.1h1M99.6 71.4h1M100.3 69.5h1M101.3 62.4h1M88.1 69.2h1M88.0 75.6h1M93.7 72.3h1M101.6 66.8h1M86.1 97.7h1M86.2 101.3h1M93.6 110.6h1M80.4 111.2h1M78.6 109.7h1M87.8 105.5h1M77.7 96.3h1M87.8 107.5h1M89.0 106.3h1M79.8 94.2h1M87.1 109.8h1M80.2 100.3h1M83.7 99.3h1M84.0 109.1h1M93.8 107.1h1M85.3 109.0h1M93.1 104.7h1M76.0 102.8h1M75.8 102.4h1M83.2 107.4h1M85.0 106.3h1M81.7 107.7h1M89.8 109.0h1M93.7 104.8h1M85.3 107.7h1M81.8 109.9h1M81.4 102.0h1M83.6 104.2h1M89.4 104.5h1M84.8 105.1h1M86.2 103.5h1M91.2 100.3h1M81.5 103.2h1M88.2 106.2h1M87.2 104.7h1M79.3 101.5h1M81.8 103.9h1M85.8 107.4h1M90.4 105.6h1M79.1 101.8h1M84.4 107.4h1M96.7 106.7h1M77.2 110.8h1M91.4 111.4h1M83.9 109.8h1M80.9 105.7h1M82.6 109.8h1M84.4 103.2h1M85.6 108.6h1M79.4 108.5h1M79.4 102.5h1M85.4 105.1h1M77.6 99.5h1M84.2 107.0h1M81.0 106.7h1M86.7 107.1h1M80.0 106.3h1M84.8 110.3h1M85.8 107.0h1M79.3 109.4h1M91.6 104.0h1M88.2 107.2h1M83.7 100.9h1M95.4 98.5h1M86.0 104.5h1M91.4 104.3h1M84.3 108.4h1M87.0 103.9h1M88.4 107.6h1M90.4 104.0h1M83.7 104.4h1M78.6 107.0h1M86.7 111.7h1M81.9 107.5h1M91.4 105.5h1M84.4 106.5h1M79.5 102.1h1M91.2 106.7h1M83.5 101.0h1M84.8 110.7h1M76.5 102.4h1M94.1 103.8h1M87.9 103.0h1M87.4 104.5h1M85.3 111.3h1M86.2 105.0h1M84.4 107.1h1M80.7 106.8h1M76.0 109.5h1M99.8 106.8h1M84.8 104.9h1M80.5 93.6h1M86.4 92.9h1M91.7 97.0h1M80.9 103.4h1M78.3 105.7h1M90.7 98.0h1M90.9 108.2h1M93.6 97.0h1M83.6 104.7h1M87.4 101.0h1M96.9 109.2h1M86.3 100.1h1M85.8 95.4h1M84.4 101.2h1M77.4 93.1h1M76.7 85.2h1M89.3 95.5h1M90.7 94.4h1M98.7 101.9h1M85.0 97.8h1M82.6 102.6h1M97.8 94.1h1M76.5 101.1h1M91.4 86.7h1M79.2 90.1h1M87.9 100.5h1M78.9 89.2h1M88.7 82.8h1M88.5 95.9h1M97.3 103.9h1M80.0 95.1h1M82.1 92.0h1M84.6 103.7h1M94.3 102.1h1M78.4 91.4h1M78.1 85.9h1M91.9 97.5h1M79.2 87.1h1M81.4 93.5h1M95.9 93.8h1M84.8 104.4h1M88.6 95.8h1M88.1 94.0h1M83.4 90.4h1M77.8 86.8h1M87.5 100.6h1M85.2 102.4h1M87.7 97.8h1M77.9 101.1h1M92.2 101.3h1M92.6 93.7h1M77.3 105.6h1M80.0 98.7h1M82.7 97.2h1M82.1 93.3h1M85.4 83.8h1M77.8 89.3h1M78.9 79.5h1M88.0 108.3h1M64.6 90.9h1M69.5 83.1h1M73.2 81.4h1M62.6 86.6h1M73.4 88.5h1M65.3 84.8h1M66.5 88.2h1M70.3 93.5h1M70.3 88.1h1M65.1 94.3h1M67.2 87.9h1M76.6 94.1h1M69.3 87.6h1M62.3 92.2h1M63.3 91.8h1M61.4 88.4h1M68.4 88.6h1M67.4 89.5h1M59.4 83.7h1M65.1 95.1h1M65.3 84.4h1M62.1 88.1h1M72.9 85.8h1M69.3 88.7h1M63.9 84.3h1M65.1 85.2h1M69.2 81.1h1M72.6 91.0h1M69.4 93.9h1M69.5 81.3h1" stroke="#666" stroke-width="1" fill="none"/>
<rect x="43.5" y="26.4" width="116.19999999999999" height="86.30000000000001" fill="none" stroke="#111" stroke-width="1.1"/>
<path d="M43.5 58.4H159.7M43.5 80.8H159.7" stroke="#111" stroke-width="1.6" fill="none"/>
<path d="M159.39999999999998 58.4V80.8" stroke="#111" stroke-width="1.8" fill="none"/>
<path d="M74.7 26.4V112.7" stroke="#111" stroke-width="1.5" fill="none"/>
<path d="M43.50 112.70v3.4M52.24 112.70v2.0M57.36 112.70v2.0M60.99 112.70v2.0M63.81 112.70v2.0M66.11 112.70v2.0M68.05 112.70v2.0M69.73 112.70v2.0M71.22 112.70v2.0M72.55 112.70v3.4M81.29 112.70v2.0M86.41 112.70v2.0M90.04 112.70v2.0M92.86 112.70v2.0M95.16 112.70v2.0M97.10 112.70v2.0M98.78 112.70v2.0M100.27 112.70v2.0M101.60 112.70v3.4M110.34 112.70v2.0M115.46 112.70v2.0M119.09 112.70v2.0M121.91 112.70v2.0M124.21 112.70v2.0M126.15 112.70v2.0M127.83 112.70v2.0M129.32 112.70v2.0M130.65 112.70v3.4M139.39 112.70v2.0M144.51 112.70v2.0M148.14 112.70v2.0M150.96 112.70v2.0M153.26 112.70v2.0M155.20 112.70v2.0M156.88 112.70v2.0M158.37 112.70v2.0M159.70 112.70v3.4" stroke="#111" stroke-width="1.0" fill="none"/>
<path d="M43.50 112.70h-3.4M43.50 106.21h-2.0M43.50 102.41h-2.0M43.50 99.71h-2.0M43.50 97.62h-2.0M43.50 95.91h-2.0M43.50 94.47h-2.0M43.50 93.22h-2.0M43.50 92.11h-2.0M43.50 91.12h-3.4M43.50 84.63h-2.0M43.50 80.83h-2.0M43.50 78.14h-2.0M43.50 76.04h-2.0M43.50 74.34h-2.0M43.50 72.89h-2.0M43.50 71.64h-2.0M43.50 70.54h-2.0M43.50 69.55h-3.4M43.50 63.06h-2.0M43.50 59.26h-2.0M43.50 56.56h-2.0M43.50 54.47h-2.0M43.50 52.76h-2.0M43.50 51.32h-2.0M43.50 50.07h-2.0M43.50 48.96h-2.0M43.50 47.97h-3.4M43.50 41.48h-2.0M43.50 37.68h-2.0M43.50 34.99h-2.0M43.50 32.89h-2.0M43.50 31.19h-2.0M43.50 29.74h-2.0M43.50 28.49h-2.0M43.50 27.39h-2.0M43.50 26.40h-3.4" stroke="#111" stroke-width="1.0" fill="none"/>
<text transform="translate(41.40,129.40)" font-family="Liberation Sans, Arial, sans-serif" font-size="9.8" fill="#1a1a1a" text-anchor="middle" letter-spacing="0.5" stroke="#1a1a1a" stroke-width="0.25">10</text>
<text transform="translate(50.60,124.50)" font-family="Liberation Sans, Arial, sans-serif" font-size="9.6" fill="#1a1a1a" text-anchor="middle" stroke="#1a1a1a" stroke-width="0.25">0</text>
<text transform="translate(71.20,129.40)" font-family="Liberation Sans, Arial, sans-serif" font-size="9.8" fill="#1a1a1a" text-anchor="middle" letter-spacing="0.5" stroke="#1a1a1a" stroke-width="0.25">10</text>
<text transform="translate(78.85,124.50)" font-family="Liberation Sans, Arial, sans-serif" font-size="9.6" fill="#1a1a1a" text-anchor="middle" stroke="#1a1a1a" stroke-width="0.25">1</text>
<text transform="translate(96.90,129.40)" font-family="Liberation Sans, Arial, sans-serif" font-size="9.8" fill="#1a1a1a" text-anchor="middle" letter-spacing="0.5" stroke="#1a1a1a" stroke-width="0.25">10</text>
<text transform="translate(106.20,124.50)" font-family="Liberation Sans, Arial, sans-serif" font-size="9.6" fill="#1a1a1a" text-anchor="middle" stroke="#1a1a1a" stroke-width="0.25">2</text>
<text transform="translate(127.55,129.40)" font-family="Liberation Sans, Arial, sans-serif" font-size="9.8" fill="#1a1a1a" text-anchor="middle" letter-spacing="0.5" stroke="#1a1a1a" stroke-width="0.25">10</text>
<text transform="translate(136.35,124.50)" font-family="Liberation Sans, Arial, sans-serif" font-size="9.6" fill="#1a1a1a" text-anchor="middle" stroke="#1a1a1a" stroke-width="0.25">3</text>
<text transform="translate(154.60,129.40)" font-family="Liberation Sans, Arial, sans-serif" font-size="9.8" fill="#1a1a1a" text-anchor="middle" letter-spacing="0.5" stroke="#1a1a1a" stroke-width="0.25">10</text>
<text transform="translate(163.80,124.50)" font-family="Liberation Sans, Arial, sans-serif" font-size="9.6" fill="#1a1a1a" text-anchor="middle" stroke="#1a1a1a" stroke-width="0.25">4</text>
<text transform="translate(37.50,111.20) rotate(-90)" font-family="Liberation Sans, Arial, sans-serif" font-size="9.8" fill="#1a1a1a" text-anchor="middle" letter-spacing="0.5" stroke="#1a1a1a" stroke-width="0.25">10</text>
<text transform="translate(31.30,103.30) rotate(-90)" font-family="Liberation Sans, Arial, sans-serif" font-size="9.6" fill="#1a1a1a" text-anchor="middle" stroke="#1a1a1a" stroke-width="0.25">0</text>
<text transform="translate(37.50,89.62) rotate(-90)" font-family="Liberation Sans, Arial, sans-serif" font-size="9.8" fill="#1a1a1a" text-anchor="middle" letter-spacing="0.5" stroke="#1a1a1a" stroke-width="0.25">10</text>
<text transform="translate(31.30,81.72) rotate(-90)" font-family="Liberation Sans, Arial, sans-serif" font-size="9.6" fill="#1a1a1a" text-anchor="middle" stroke="#1a1a1a" stroke-width="0.25">1</text>
<text transform="translate(37.50,68.05) rotate(-90)" font-family="Liberation Sans, Arial, sans-serif" font-size="9.8" fill="#1a1a1a" text-anchor="middle" letter-spacing="0.5" stroke="#1a1a1a" stroke-width="0.25">10</text>
<text transform="translate(31.30,60.15) rotate(-90)" font-family="Liberation Sans, Arial, sans-serif" font-size="9.6" fill="#1a1a1a" text-anchor="middle" stroke="#1a1a1a" stroke-width="0.25">2</text>
<text transform="translate(37.50,46.47) rotate(-90)" font-family="Liberation Sans, Arial, sans-serif" font-size="9.8" fill="#1a1a1a" text-anchor="middle" letter-spacing="0.5" stroke="#1a1a1a" stroke-width="0.25">10</text>
<text transform="translate(31.30,38.57) rotate(-90)" font-family="Liberation Sans, Arial, sans-serif" font-size="9.6" fill="#1a1a1a" text-anchor="middle" stroke="#1a1a1a" stroke-width="0.25">3</text>
<text transform="translate(37.50,28.60) rotate(-90)" font-family="Liberation Sans, Arial, sans-serif" font-size="9.8" fill="#1a1a1a" text-anchor="middle" letter-spacing="0.5" stroke="#1a1a1a" stroke-width="0.25">10</text>
<text transform="translate(31.30,20.70) rotate(-90)" font-family="Liberation Sans, Arial, sans-serif" font-size="9.6" fill="#1a1a1a" text-anchor="middle" stroke="#1a1a1a" stroke-width="0.25">4</text>
<text transform="translate(14.90,67.00) rotate(-90)" font-family="Liberation Sans, Arial, sans-serif" font-size="16.5" fill="#111" text-anchor="middle">CD4</text>
<text transform="translate(98.80,148.00)" font-family="Liberation Sans, Arial, sans-serif" font-size="16.5" fill="#111" text-anchor="middle">PKH</text>
<path d="M223.0 112.7V26.7H341.0V112.7" fill="none" stroke="#111" stroke-width="1"/>
<path d="M220.0 112.7H341.0" fill="none" stroke="#111" stroke-width="1.1"/>
<polyline points="223.7,112.2 231,111.2 236,108.8 239.7,101.2 242,91.3 244.6,74 246.3,54.5 247.8,39.7 248.7,34.3 250,38.5 251.4,49.6 253.2,66.8 254.9,81.5 256.9,93.8 259.3,102.4 263,107.3 267.9,109.8 276.5,111.3 290,112.0 310,112.3 341,112.4" fill="none" stroke="#222" stroke-width="1.1" stroke-linejoin="round"/>
<path d="M269.3 60.3V75M269.3 67.5H341.0" stroke="#222" stroke-width="1" fill="none"/>
<path d="M223.00 112.70h-3.4M223.00 109.83h-2.0M223.00 106.97h-2.0M223.00 104.10h-2.0M223.00 101.23h-2.0M223.00 98.37h-3.4M223.00 95.50h-2.0M223.00 92.63h-2.0M223.00 89.77h-2.0M223.00 86.90h-2.0M223.00 84.03h-3.4M223.00 81.17h-2.0M223.00 78.30h-2.0M223.00 75.43h-2.0M223.00 72.57h-2.0M223.00 69.70h-3.4M223.00 66.83h-2.0M223.00 63.97h-2.0M223.00 61.10h-2.0M223.00 58.23h-2.0M223.00 55.37h-3.4M223.00 52.50h-2.0M223.00 49.63h-2.0M223.00 46.77h-2.0M223.00 43.90h-2.0M223.00 41.03h-3.4M223.00 38.17h-2.0M223.00 35.30h-2.0M223.00 32.43h-2.0M223.00 29.57h-2.0M223.00 26.70h-3.4" stroke="#111" stroke-width="1.0" fill="none"/>
<path d="M223.00 112.70v3.4M231.88 112.70v2.0M237.08 112.70v2.0M240.76 112.70v2.0M243.62 112.70v2.0M245.96 112.70v2.0M247.93 112.70v2.0M249.64 112.70v2.0M251.15 112.70v2.0M252.50 112.70v3.4M261.38 112.70v2.0M266.58 112.70v2.0M270.26 112.70v2.0M273.12 112.70v2.0M275.46 112.70v2.0M277.43 112.70v2.0M279.14 112.70v2.0M280.65 112.70v2.0M282.00 112.70v3.4M290.88 112.70v2.0M296.08 112.70v2.0M299.76 112.70v2.0M302.62 112.70v2.0M304.96 112.70v2.0M306.93 112.70v2.0M308.64 112.70v2.0M310.15 112.70v2.0M311.50 112.70v3.4M320.38 112.70v2.0M325.58 112.70v2.0M329.26 112.70v2.0M332.12 112.70v2.0M334.46 112.70v2.0M336.43 112.70v2.0M338.14 112.70v2.0M339.65 112.70v2.0M341.00 112.70v3.4" stroke="#111" stroke-width="1.0" fill="none"/>
<text transform="translate(220.80,129.40)" font-family="Liberation Sans, Arial, sans-serif" font-size="9.8" fill="#1a1a1a" text-anchor="middle" letter-spacing="0.5" stroke="#1a1a1a" stroke-width="0.25">10</text>
<text transform="translate(230.30,124.50)" font-family="Liberation Sans, Arial, sans-serif" font-size="9.6" fill="#1a1a1a" text-anchor="middle" stroke="#1a1a1a" stroke-width="0.25">0</text>
<text transform="translate(249.60,129.40)" font-family="Liberation Sans, Arial, sans-serif" font-size="9.8" fill="#1a1a1a" text-anchor="middle" letter-spacing="0.5" stroke="#1a1a1a" stroke-width="0.25">10</text>
<text transform="translate(258.80,124.50)" font-family="Liberation Sans, Arial, sans-serif" font-size="9.6" fill="#1a1a1a" text-anchor="middle" stroke="#1a1a1a" stroke-width="0.25">1</text>
<text transform="translate(277.70,129.40)" font-family="Liberation Sans, Arial, sans-serif" font-size="9.8" fill="#1a1a1a" text-anchor="middle" letter-spacing="0.5" stroke="#1a1a1a" stroke-width="0.25">10</text>
<text transform="translate(287.30,124.50)" font-family="Liberation Sans, Arial, sans-serif" font-size="9.6" fill="#1a1a1a" text-anchor="middle" stroke="#1a1a1a" stroke-width="0.25">2</text>
<text transform="translate(307.40,129.40)" font-family="Liberation Sans, Arial, sans-serif" font-size="9.8" fill="#1a1a1a" text-anchor="middle" letter-spacing="0.5" stroke="#1a1a1a" stroke-width="0.25">10</text>
<text transform="translate(316.40,124.50)" font-family="Liberation Sans, Arial, sans-serif" font-size="9.6" fill="#1a1a1a" text-anchor="middle" stroke="#1a1a1a" stroke-width="0.25">3</text>
<text transform="translate(336.80,129.40)" font-family="Liberation Sans, Arial, sans-serif" font-size="9.8" fill="#1a1a1a" text-anchor="middle" letter-spacing="0.5" stroke="#1a1a1a" stroke-width="0.25">10</text>
<text transform="translate(345.80,124.50)" font-family="Liberation Sans, Arial, sans-serif" font-size="9.6" fill="#1a1a1a" text-anchor="middle" stroke="#1a1a1a" stroke-width="0.25">4</text>
<text transform="translate(216.60,28.20) rotate(-90)" font-family="Liberation Sans, Arial, sans-serif" font-size="8.8" fill="#1a1a1a" text-anchor="middle" letter-spacing="1.0" stroke="#1a1a1a" stroke-width="0.25">450</text>
<text transform="translate(216.60,113.20) rotate(-90)" font-family="Liberation Sans, Arial, sans-serif" font-size="8.8" fill="#1a1a1a" text-anchor="middle" stroke="#1a1a1a" stroke-width="0.25">0</text>
<text transform="translate(194.60,67.40) rotate(-90)" font-family="Liberation Mono, Courier New, monospace" font-size="18.5" fill="#333" text-anchor="middle">Counts</text>
<text transform="translate(245.00,18.70)" font-family="Liberation Sans, Arial, sans-serif" font-size="16.2" fill="#111" text-anchor="start">CD4/PKH</text>
<path d="M318.2 7.3h3.2" stroke="#111" stroke-width="1.2"/>
<text transform="translate(315.50,45.70)" font-family="Liberation Sans, Arial, sans-serif" font-size="12.6" fill="#111" text-anchor="start">2 %</text>
<text transform="translate(228.70,150.00)" font-family="Liberation Sans, Arial, sans-serif" font-size="16" fill="#111" text-anchor="start">Brdu</text>
<path d="M270 144.5H322" stroke="#222" stroke-width="1.2"/>
<path d="M320 140L338 144.5L320 149.2Z" fill="#111"/>
<path d="M395.2 112.5V26.7H513.0V112.5" fill="none" stroke="#111" stroke-width="1"/>
<path d="M392.2 112.5H513.0" fill="none" stroke="#111" stroke-width="1.1"/>
<polyline points="396,112.3 411.25,112.0 415.0,110.5 418.0,107.5 420.0,103.0 422.0,98.0 423.75,93.75 425.0,91.25 426.25,90.5 427.5,92.5 428.75,95.0 430.0,97.5 432.0,98.75 433.75,100.5 435.5,101.5 437.0,100.0 438.75,100.5 440.5,99.0 442.0,99.5 443.25,98.0 444.0,94.0 444.75,98.75 445.5,95.0 446.5,94.0 447.5,98.0 449.5,97.5 451.25,99.0 453.0,98.25 455.0,98.75 457.0,97.5 458.75,95.5 460.5,94.5 462.0,92.5 463.0,93.5 464.25,90.5 465.5,89.5 466.5,85.0 467.25,83.5 468.0,87.5 469.0,90.5 470.0,93.0 471.25,92.5 472.5,96.0 474.0,97.0 475.0,99.0 476.25,98.0 477.5,98.5 478.5,101.0 479.5,100.0 480.5,102.5 481.5,101.5 482.5,104.5 483.75,104.0 485.0,107.0 486.5,106.5 487.5,109.0 489.0,109.5 490.5,111.0 492.5,111.5 494.5,112.25 497.5,112.5 513,112.3" fill="none" stroke="#222" stroke-width="1" stroke-linejoin="round"/>
<path d="M441.3 59.3V74.5M441.3 66.8H513.0" stroke="#222" stroke-width="1" fill="none"/>
<path d="M395.20 112.50h-4.0M395.20 110.05h-2.0M395.20 107.60h-2.0M395.20 105.15h-2.0M395.20 102.69h-2.0M395.20 100.24h-4.0M395.20 97.79h-2.0M395.20 95.34h-2.0M395.20 92.89h-2.0M395.20 90.44h-2.0M395.20 87.99h-4.0M395.20 85.53h-2.0M395.20 83.08h-2.0M395.20 80.63h-2.0M395.20 78.18h-2.0M395.20 75.73h-4.0M395.20 73.28h-2.0M395.20 70.83h-2.0M395.20 68.37h-2.0M395.20 65.92h-2.0M395.20 63.47h-4.0M395.20 61.02h-2.0M395.20 58.57h-2.0M395.20 56.12h-2.0M395.20 53.67h-2.0M395.20 51.21h-4.0M395.20 48.76h-2.0M395.20 46.31h-2.0M395.20 43.86h-2.0M395.20 41.41h-2.0M395.20 38.96h-4.0M395.20 36.51h-2.0M395.20 34.05h-2.0M395.20 31.60h-2.0M395.20 29.15h-2.0M395.20 26.70h-4.0" stroke="#111" stroke-width="1.0" fill="none"/>
<path d="M395.20 112.50v3.4M404.07 112.50v2.0M409.25 112.50v2.0M412.93 112.50v2.0M415.78 112.50v2.0M418.12 112.50v2.0M420.09 112.50v2.0M421.80 112.50v2.0M423.30 112.50v2.0M424.65 112.50v3.4M433.52 112.50v2.0M438.70 112.50v2.0M442.38 112.50v2.0M445.23 112.50v2.0M447.57 112.50v2.0M449.54 112.50v2.0M451.25 112.50v2.0M452.75 112.50v2.0M454.10 112.50v3.4M462.97 112.50v2.0M468.15 112.50v2.0M471.83 112.50v2.0M474.68 112.50v2.0M477.02 112.50v2.0M478.99 112.50v2.0M480.70 112.50v2.0M482.20 112.50v2.0M483.55 112.50v3.4M492.42 112.50v2.0M497.60 112.50v2.0M501.28 112.50v2.0M504.13 112.50v2.0M506.47 112.50v2.0M508.44 112.50v2.0M510.15 112.50v2.0M511.65 112.50v2.0M513.00 112.50v3.4" stroke="#111" stroke-width="1.0" fill="none"/>
<text transform="translate(392.10,129.40)" font-family="Liberation Sans, Arial, sans-serif" font-size="9.8" fill="#1a1a1a" text-anchor="middle" letter-spacing="0.5" stroke="#1a1a1a" stroke-width="0.25">10</text>
<text transform="translate(401.40,124.50)" font-family="Liberation Sans, Arial, sans-serif" font-size="9.6" fill="#1a1a1a" text-anchor="middle" stroke="#1a1a1a" stroke-width="0.25">0</text>
<text transform="translate(421.35,129.40)" font-family="Liberation Sans, Arial, sans-serif" font-size="9.8" fill="#1a1a1a" text-anchor="middle" letter-spacing="0.5" stroke="#1a1a1a" stroke-width="0.25">10</text>
<text transform="translate(430.65,124.50)" font-family="Liberation Sans, Arial, sans-serif" font-size="9.6" fill="#1a1a1a" text-anchor="middle" stroke="#1a1a1a" stroke-width="0.25">1</text>
<text transform="translate(450.80,129.40)" font-family="Liberation Sans, Arial, sans-serif" font-size="9.8" fill="#1a1a1a" text-anchor="middle" letter-spacing="0.5" stroke="#1a1a1a" stroke-width="0.25">10</text>
<text transform="translate(460.40,124.50)" font-family="Liberation Sans, Arial, sans-serif" font-size="9.6" fill="#1a1a1a" text-anchor="middle" stroke="#1a1a1a" stroke-width="0.25">2</text>
<text transform="translate(479.40,129.40)" font-family="Liberation Sans, Arial, sans-serif" font-size="9.8" fill="#1a1a1a" text-anchor="middle" letter-spacing="0.5" stroke="#1a1a1a" stroke-width="0.25">10</text>
<text transform="translate(488.30,124.50)" font-family="Liberation Sans, Arial, sans-serif" font-size="9.6" fill="#1a1a1a" text-anchor="middle" stroke="#1a1a1a" stroke-width="0.25">3</text>
<text transform="translate(506.80,129.40)" font-family="Liberation Sans, Arial, sans-serif" font-size="9.8" fill="#1a1a1a" text-anchor="middle" letter-spacing="0.5" stroke="#1a1a1a" stroke-width="0.25">10</text>
<text transform="translate(515.80,124.50)" font-family="Liberation Sans, Arial, sans-serif" font-size="9.6" fill="#1a1a1a" text-anchor="middle" stroke="#1a1a1a" stroke-width="0.25">4</text>
<text transform="translate(387.00,26.40) rotate(-90)" font-family="Liberation Sans, Arial, sans-serif" font-size="8.8" fill="#1a1a1a" text-anchor="middle" letter-spacing="1.0" stroke="#1a1a1a" stroke-width="0.25">150</text>
<text transform="translate(388.00,111.30) rotate(-90)" font-family="Liberation Sans, Arial, sans-serif" font-size="8.8" fill="#1a1a1a" text-anchor="middle" stroke="#1a1a1a" stroke-width="0.25">0</text>
<text transform="translate(408.00,17.30)" font-family="Liberation Sans, Arial, sans-serif" font-size="16.3" fill="#111" text-anchor="start">CD4/PKH</text>
<path d="M481.3 6.3h7.5M485 2.5v7.6" stroke="#111" stroke-width="1.5"/>
<text transform="translate(477.60,45.20)" font-family="Liberation Sans, Arial, sans-serif" font-size="12.5" fill="#111" text-anchor="start">68 %</text>
<path d="M42.0 305.4V181.7H385.8" fill="none" stroke="#111" stroke-width="1.9"/>
<path d="M385.2 181.7V303" fill="none" stroke="#111" stroke-width="1.2"/>
<polyline points="44,301.5 300,301.5 312,299.5 317.9,297.4 323.1,293.9 326.5,290.5 329.3,293.9 331.7,288.7 334.1,283.5 336.9,274.9 339.7,264.5 342.1,254.1 344.5,245.5 347.3,233.4 350.1,219.5 352.5,207.4 355.6,195.3 357.3,200.5 359,188.4 361.5,183.2 363.5,182.2 366,184.9 367.7,193.6 369.1,184.9 370.4,198.8 371.8,186.7 373.2,197 374.6,188.4 375.6,212.6 376.7,235.1 377.4,223 378.8,212.6 379.8,223 380.8,238.5 381.5,250.7 382.2,229.9 383.6,261 384.3,281.8 385,297.4" fill="none" stroke="#7a7a7a" stroke-width="1.4" stroke-linejoin="miter"/>
<polyline points="44,302 160,302 165.2,299.1 170.4,295.6 173.1,285.3 176.6,276.6 180,271.4 182.5,274.9 186,266.2 188.4,259.3 190.4,264.5 192.9,252.4 194.6,266.2 196.3,250.7 198.1,245.5 199.8,250.7 202.2,233.4 204.3,242 206.7,229.9 209.1,235.1 211.9,226.4 213.6,231.6 216.1,212.6 218.1,205.7 219.5,233.4 222.3,211.5 224.8,195.3 227.2,204 229.6,198.8 232.4,183.2 234.5,184.9 235.8,212.6 237.6,198.8 240,188.4 242.1,202.2 244.5,188.4 246.9,197 249,212.6 251.1,195.3 253.1,210.9 255.6,198.8 257.6,219.5 259.4,229.9 261.8,242 265.3,250.7 268.7,257.6 272.2,264.5 273.9,271.4 275.6,261 277.4,257.6 279.1,271.4 282.6,278.3 286,281.8 288.5,283.5 291.9,288.7 295.4,293.9 300.6,297.4 305.8,295.6 311,297.4 317.9,299.1 330,300.5 345,301.5 385,302" fill="none" stroke="#636363" stroke-width="1.6" stroke-linejoin="miter"/>
<path d="M230 299.3H304" stroke="#aaa" stroke-width="1.4" stroke-dasharray="6 2.5" fill="none"/>
<path d="M43.9 302v-3.9M49.1 302v-3.9M53.7 302v-3.9M82.5 302v-3.9M90.8 302v-3.9M92.2 302v-3.9M93.6 302v-3.9M95 302v-3.9M98.2 302v-3.9M99.6 302v-3.9M101 302v-3.9M102.2 302v-3.9M106.8 302v-3.9M111.6 302v-3.9M114.8 302v-3.9M120.2 302v-3.9M124 302v-3.9M150 302v-3.9M155 302v-3.9M158 302v-3.9" stroke="#5a5a5a" stroke-width="1.2" fill="none"/>
<path d="M42.0 302H385.2" stroke="#666" stroke-width="2.4" fill="none"/>
<path d="M41.0 304.3H386.09999999999997" fill="none" stroke="#111" stroke-width="2.3"/>
<path d="M385.2 259V283" stroke="#222" stroke-width="2.4" fill="none"/>
<path d="M385.2 283V301" stroke="#666" stroke-width="1.8" fill="none"/>
<polyline points="215,302 222,301.3 228.9,297.4 232.4,292.2 236.5,288.7 238.6,281.8 241,283.5 243.5,276.6 246.2,273.2 249.7,266.2 252.4,262.8 254.9,252.4 256.6,243.7 259.4,235.1 261.8,231.6 264.2,226.4 267,217.8 269.8,207.4 271.1,195.3 272.5,183.2 273.9,198.8 275.6,188.4 277.4,183.2 279.1,202.2 280.8,212.6 282.6,223 285,226.5 287.8,229.9 290.2,240.3 292.6,242 295.4,229.9 298.1,221.3 299.5,229.9 301.6,243.7 304,247.2 305.8,252.4 307.5,264.5 309.2,259.3 311,273.2 312.7,269.7 314.4,255.9 315.4,271.4 317.2,281.8 318.9,288.7 320.6,292.2 322.4,285.3 324.1,292.2 326.5,287 328.3,292.2 331.7,293.9 336.9,293.9 338.6,297.4 340.4,299.6 344.5,299.6 346.6,293.9 348.3,300 385,301.5" fill="none" stroke="#111" stroke-width="2.1" stroke-linejoin="miter"/>
<path d="M42.00 302.00h-8.4M42.00 297.99h-4.8M42.00 293.98h-4.8M42.00 289.97h-4.8M42.00 285.96h-4.8M42.00 281.95h-8.4M42.00 277.94h-4.8M42.00 273.93h-4.8M42.00 269.92h-4.8M42.00 265.91h-4.8M42.00 261.90h-8.4M42.00 257.89h-4.8M42.00 253.88h-4.8M42.00 249.87h-4.8M42.00 245.86h-4.8M42.00 241.85h-8.4M42.00 237.84h-4.8M42.00 233.83h-4.8M42.00 229.82h-4.8M42.00 225.81h-4.8M42.00 221.80h-8.4M42.00 217.79h-4.8M42.00 213.78h-4.8M42.00 209.77h-4.8M42.00 205.76h-4.8M42.00 201.75h-8.4M42.00 197.74h-4.8M42.00 193.73h-4.8M42.00 189.72h-4.8M42.00 185.71h-4.8" stroke="#111" stroke-width="1.9" fill="none"/>
<path d="M41.60 304.00v11M67.34 304.00v6.4M82.39 304.00v6.4M93.08 304.00v6.4M101.36 304.00v6.4M108.13 304.00v6.4M113.86 304.00v6.4M118.81 304.00v6.4M123.19 304.00v6.4M127.10 304.00v11M152.84 304.00v6.4M167.89 304.00v6.4M178.58 304.00v6.4M186.86 304.00v6.4M193.63 304.00v6.4M199.36 304.00v6.4M204.31 304.00v6.4M208.69 304.00v6.4M212.60 304.00v11M238.34 304.00v6.4M253.39 304.00v6.4M264.08 304.00v6.4M272.36 304.00v6.4M279.13 304.00v6.4M284.86 304.00v6.4M289.81 304.00v6.4M294.19 304.00v6.4M298.10 304.00v11M323.84 304.00v6.4M338.89 304.00v6.4M349.58 304.00v6.4M357.86 304.00v6.4M364.63 304.00v6.4M370.36 304.00v6.4M375.31 304.00v6.4M379.69 304.00v6.4M383.60 304.00v11" stroke="#111" stroke-width="1.6" fill="none"/>
<text transform="translate(39.50,341.30) scale(0.95,1)" font-family="Liberation Sans, Arial, sans-serif" font-size="17.7" fill="#333" text-anchor="middle">10</text>
<text transform="translate(52.70,329.30) scale(0.9,1)" font-family="Liberation Sans, Arial, sans-serif" font-size="17.7" fill="#333" text-anchor="middle">0</text>
<text transform="translate(123.70,341.30) scale(0.95,1)" font-family="Liberation Sans, Arial, sans-serif" font-size="17.7" fill="#333" text-anchor="middle">10</text>
<text transform="translate(137.00,329.30) scale(0.9,1)" font-family="Liberation Sans, Arial, sans-serif" font-size="17.7" fill="#333" text-anchor="middle">1</text>
<text transform="translate(208.60,341.30) scale(0.95,1)" font-family="Liberation Sans, Arial, sans-serif" font-size="17.7" fill="#333" text-anchor="middle">10</text>
<text transform="translate(221.60,329.30) scale(0.9,1)" font-family="Liberation Sans, Arial, sans-serif" font-size="17.7" fill="#333" text-anchor="middle">2</text>
<text transform="translate(295.20,341.30) scale(0.95,1)" font-family="Liberation Sans, Arial, sans-serif" font-size="17.7" fill="#333" text-anchor="middle">10</text>
<text transform="translate(308.70,329.30) scale(0.9,1)" font-family="Liberation Sans, Arial, sans-serif" font-size="17.7" fill="#333" text-anchor="middle">3</text>
<text transform="translate(379.50,341.30) scale(0.95,1)" font-family="Liberation Sans, Arial, sans-serif" font-size="17.7" fill="#333" text-anchor="middle">10</text>
<text transform="translate(392.20,329.30) scale(0.9,1)" font-family="Liberation Sans, Arial, sans-serif" font-size="17.7" fill="#333" text-anchor="middle">4</text>
<text transform="translate(28.40,193.30) rotate(-90) scale(1.22,1)" font-family="Liberation Sans, Arial, sans-serif" font-size="14.8" fill="#333" text-anchor="middle" letter-spacing="3.0">100</text>
<text transform="translate(28.60,297.30) rotate(-90) scale(1.22,1)" font-family="Liberation Sans, Arial, sans-serif" font-size="14.8" fill="#333" text-anchor="middle">0</text>
<text transform="translate(13.20,240.20) rotate(-90) scale(1.325,1)" font-family="Liberation Mono, Courier New, monospace" font-size="16.4" fill="#333" text-anchor="middle">Counts</text>
<text transform="translate(214.20,365.10)" font-family="Liberation Sans, Arial, sans-serif" font-size="16.2" fill="#111" text-anchor="middle">CFSE</text>
<path d="M381.8 223.7H435.6" stroke="#111" stroke-width="1.4"/>
<path d="M375.8 223.7L388.8 219.7V227.7Z" fill="#111"/>
<text transform="translate(442.60,228.40) scale(1.24,1)" font-family="Liberation Sans, Arial, sans-serif" font-size="13" fill="#111" text-anchor="start">0 h</text>
<path d="M307.6 242.6H435.6" stroke="#111" stroke-width="1.4"/>
<path d="M301.6 242.6L314.6 238.6V246.6Z" fill="#111"/>
<text transform="translate(442.60,247.30) scale(1.24,1)" font-family="Liberation Sans, Arial, sans-serif" font-size="13" fill="#111" text-anchor="start">24 h</text>
<path d="M283.4 261.5H435.6" stroke="#111" stroke-width="1.4"/>
<path d="M277.4 261.5L290.4 257.5V265.5Z" fill="#111"/>
<text transform="translate(442.60,264.70) scale(1.24,1)" font-family="Liberation Sans, Arial, sans-serif" font-size="13" fill="#111" text-anchor="start">48 h</text>
</svg></body></html>
